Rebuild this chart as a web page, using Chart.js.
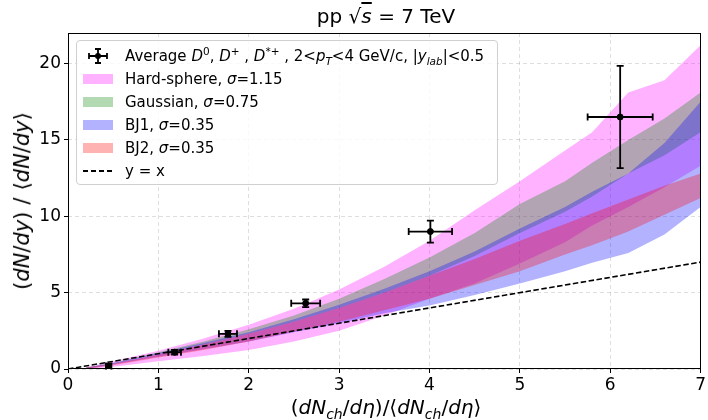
<!DOCTYPE html>
<html>
<head>
<meta charset="utf-8">
<script src="https://cdn.jsdelivr.net/npm/chart.js@4.4.1/dist/chart.umd.min.js"></script>
<style>
  html, body { margin:0; padding:0; background:#fff; }
  #wrap { position:relative; width:708px; height:420px; overflow:hidden; font-family:"DejaVu Sans", sans-serif; }
  #c { position:absolute; left:0; top:0; }
  .txt { position:absolute; white-space:nowrap; color:#000; }
  .m { font-style:italic; }
  #legend { position:absolute; left:76px; top:40px; width:420px; height:143px; border:1px solid #d0d0d0; border-radius:4px; background:rgba(255,255,255,0.8); font-size:15px; }
  .row { position:absolute; left:0; height:20px; line-height:20px; }
  .sw { position:absolute; left:6px; top:5px; width:30px; height:10px; }
  .lab { position:absolute; left:48px; top:0; white-space:nowrap; }
  sub, sup { font-size:70%; line-height:0; }
  .sp { display:inline-block; width:7px; }
</style>
</head>
<body>
<div id="wrap">
  <canvas id="c" width="708" height="420"></canvas>
  <div class="txt" id="title" style="left:386px; top:4px; transform:translateX(-50%); font-size:20px;">pp √<span class="m" style="text-decoration:overline;">s</span> = 7 TeV</div>
  <div class="txt" id="ytitle" style="left:22px; top:201px; transform:translate(-50%,-50%) rotate(-90deg); font-size:21px;">(<span class="m">dN</span>/<span class="m">dy</span>)<span class="sp"></span>/<span class="sp"></span>⟨<span class="m">dN</span>/<span class="m">dy</span>⟩</div>
  <div class="txt" id="xtitle" style="left:386px; top:395px; transform:translateX(-50%); font-size:20px;">(<span class="m">dN<sub>ch</sub></span>/<span class="m">dη</span>)/⟨<span class="m">dN<sub>ch</sub></span>/<span class="m">dη</span>⟩</div>
  <div id="legend">
    <div class="row" style="top:5px;"><canvas id="ebIcon" class="sw" width="30" height="16" style="top:2px;height:16px;"></canvas><span class="lab">Average <span class="m">D</span><sup>0</sup>, <span class="m">D</span><sup>+</sup> , <span class="m">D</span><sup>*+</sup> , 2&lt;<span class="m">p<sub>T</sub></span>&lt;4 GeV/c, |<span class="m">y<sub>lab</sub></span>|&lt;0.5</span></div>
    <div class="row" style="top:28px;"><div class="sw" style="background:rgba(255,0,255,0.3);"></div><span class="lab">Hard-sphere, <span class="m">σ</span>=1.15</span></div>
    <div class="row" style="top:51px;"><div class="sw" style="background:rgba(0,128,0,0.3);"></div><span class="lab">Gaussian, <span class="m">σ</span>=0.75</span></div>
    <div class="row" style="top:74px;"><div class="sw" style="background:rgba(0,0,255,0.3);"></div><span class="lab">BJ1, <span class="m">σ</span>=0.35</span></div>
    <div class="row" style="top:97px;"><div class="sw" style="background:rgba(255,0,0,0.3);"></div><span class="lab">BJ2, <span class="m">σ</span>=0.35</span></div>
    <div class="row" style="top:120px;"><div class="sw" style="top:9px;height:1.6px;background:repeating-linear-gradient(to right,#000 0,#000 5.5px,transparent 5.5px,transparent 8px);"></div><span class="lab">y = x</span></div>
  </div>
</div>
<script>
// ---------- data ----------
const bandX       = [0.2, 0.5, 1.0, 1.5, 2.0, 2.5, 3.0, 3.5, 4.0, 4.5, 5.0, 5.5, 5.8, 6.2, 6.6, 7.0];
const hardLow     = [0.0, 0.15, 0.5, 0.85, 1.25, 1.8, 2.5, 3.5, 4.6, 5.6, 6.9, 8.3, 9.4, 10.6, 11.9, 13.3];
const hardHigh    = [0.1, 0.5, 1.2, 2.0, 2.9, 3.95, 5.2, 6.7, 8.4, 10.4, 12.3, 14.3, 15.5, 18.1, 18.9, 21.2];
const gaussLow    = [0.05, 0.35, 1.0, 1.6, 2.3, 3.1, 4.0, 5.0, 6.1, 7.4, 8.9, 10.3, 11.3, 12.8, 14.0, 15.5];
const gaussHigh   = [0.1, 0.4, 1.1, 1.8, 2.6, 3.5, 4.6, 5.9, 7.3, 8.9, 10.8, 12.3, 13.5, 15.0, 16.4, 18.1];
const bj1Low      = [0.0, 0.3, 0.8, 1.3, 1.8, 2.4, 3.0, 3.65, 4.15, 4.85, 5.6, 6.4, 6.95, 7.6, 8.8, 10.6];
const bj1High     = [0.1, 0.4, 1.05, 1.7, 2.4, 3.25, 4.2, 5.25, 6.4, 7.7, 9.2, 10.6, 11.6, 12.8, 14.8, 17.5];
const bj2Low      = [0.0, 0.25, 0.75, 1.25, 1.8, 2.45, 3.1, 3.85, 4.6, 5.5, 6.4, 7.5, 8.1, 9.0, 10.1, 11.2];
const bj2High     = [0.1, 0.35, 0.95, 1.6, 2.3, 3.1, 4.0, 5.0, 6.1, 7.2, 8.4, 9.5, 10.2, 11.1, 12.0, 12.8];

const dataX    = [0.45, 1.18, 1.77, 2.63, 4.01, 6.11];
const dataY    = [0.2, 1.1, 2.3, 4.3, 9.0, 16.5];
const dataXErr = [0.03, 0.07, 0.10, 0.16, 0.24, 0.36];
const dataYErr = [0.08, 0.15, 0.20, 0.25, 0.72, 3.35];

const diagX = [0, 7];
const diagY = [0, 7];

const xTicks = [0, 1, 2, 3, 4, 5, 6, 7];
const yTicks = [0, 5, 10, 15, 20];

// ---------- build ----------
const pts = (xs, ys) => xs.map((x, i) => ({x: x, y: ys[i]}));
function band(low, high, color, order, idx) {
  return [
    { data: pts(bandX, low), borderWidth: 0, pointRadius: 0, fill: false, order: order, showLine: true },
    { data: pts(bandX, high), borderWidth: 0, pointRadius: 0, fill: {target: idx}, backgroundColor: color, order: order, showLine: true }
  ];
}
const datasets = [
  ...band(hardLow, hardHigh, 'rgba(255,0,255,0.3)', 10, 0),
  ...band(gaussLow, gaussHigh, 'rgba(0,128,0,0.3)', 9, 2),
  ...band(bj1Low, bj1High, 'rgba(0,0,255,0.3)', 8, 4),
  ...band(bj2Low, bj2High, 'rgba(255,0,0,0.3)', 7, 6),
  { data: pts(diagX, diagY), borderColor: '#000', borderWidth: 1.6, borderDash: [5.5, 2.5], pointRadius: 0, fill: false, order: 2, showLine: true },
  { data: pts(dataX, dataY), showLine: false, pointRadius: 3, pointBackgroundColor: '#000', pointBorderColor: '#000', order: 1 }
];

const errPlugin = {
  id: 'errbars',
  afterDatasetsDraw(chart) {
    const xs = chart.scales.x, ys = chart.scales.y, ctx = chart.ctx;
    ctx.save();
    ctx.strokeStyle = '#000';
    ctx.lineWidth = 1.8;
    const cap = 3.5;
    dataX.forEach((x, i) => {
      const y = dataY[i];
      const px = xs.getPixelForValue(x), py = ys.getPixelForValue(y);
      const x0 = xs.getPixelForValue(x - dataXErr[i]), x1 = xs.getPixelForValue(x + dataXErr[i]);
      const y0 = ys.getPixelForValue(y - dataYErr[i]), y1 = ys.getPixelForValue(y + dataYErr[i]);
      ctx.beginPath();
      ctx.moveTo(x0, py); ctx.lineTo(x1, py);
      ctx.moveTo(px, y0); ctx.lineTo(px, y1);
      ctx.moveTo(x0, py - cap); ctx.lineTo(x0, py + cap);
      ctx.moveTo(x1, py - cap); ctx.lineTo(x1, py + cap);
      ctx.moveTo(px - cap, y0); ctx.lineTo(px + cap, y0);
      ctx.moveTo(px - cap, y1); ctx.lineTo(px + cap, y1);
      ctx.stroke();
    });
    ctx.restore();
  },
  afterDraw(chart) {
    const a = chart.chartArea, ctx = chart.ctx;
    ctx.save();
    ctx.strokeStyle = '#000';
    ctx.lineWidth = 1;
    ctx.strokeRect(Math.round(a.left) + 0.5, Math.round(a.top) + 0.5, Math.round(a.right - a.left) - 1, Math.round(a.bottom - a.top) - 1);
    ctx.restore();
  }
};

Chart.defaults.font.family = '"DejaVu Sans", sans-serif';
Chart.defaults.color = '#000';

new Chart(document.getElementById('c'), {
  type: 'line',
  data: { datasets: datasets },
  plugins: [errPlugin],
  options: {
    responsive: false,
    animation: false,
    events: [],
    layout: { padding: { top: 33, right: 4, left: 0, bottom: 0 } },
    plugins: { legend: { display: false }, tooltip: { enabled: false }, title: { display: false }, filler: { propagate: false } },
    scales: {
      x: {
        type: 'linear', min: 0, max: 7,
        afterFit(s) { s.height = 51; },
        afterBuildTicks(s) { s.ticks = xTicks.map(v => ({value: v})); },
        ticks: { font: { size: 17 }, padding: 2, maxRotation: 0, includeBounds: false },
        grid: { color: 'rgba(0,0,0,0.13)', tickColor: '#000', tickLength: 4, tickBorderDash: [] },
        border: { display: false, dash: [4, 3] }
      },
      y: {
        type: 'linear', min: 0, max: 22,
        afterFit(s) { s.width = 68; },
        afterBuildTicks(s) { s.ticks = yTicks.map(v => ({value: v})); },
        ticks: { font: { size: 17 }, padding: 3, includeBounds: false },
        grid: { color: 'rgba(0,0,0,0.13)', tickColor: '#000', tickLength: 4, tickBorderDash: [] },
        border: { display: false, dash: [4, 3] }
      }
    }
  }
});

// legend error-bar icon
(function(){
  const cv = document.getElementById('ebIcon'), g = cv.getContext('2d');
  g.strokeStyle = '#000'; g.lineWidth = 1.8; g.fillStyle = '#000';
  g.beginPath();
  g.moveTo(6, 8); g.lineTo(24, 8);
  g.moveTo(15, 1); g.lineTo(15, 15);
  g.moveTo(6, 5); g.lineTo(6, 11);
  g.moveTo(24, 5); g.lineTo(24, 11);
  g.moveTo(12, 1); g.lineTo(18, 1);
  g.moveTo(12, 15); g.lineTo(18, 15);
  g.stroke();
  g.beginPath(); g.arc(15, 8, 3, 0, Math.PI * 2); g.fill();
})();
</script>
</body>
</html>
